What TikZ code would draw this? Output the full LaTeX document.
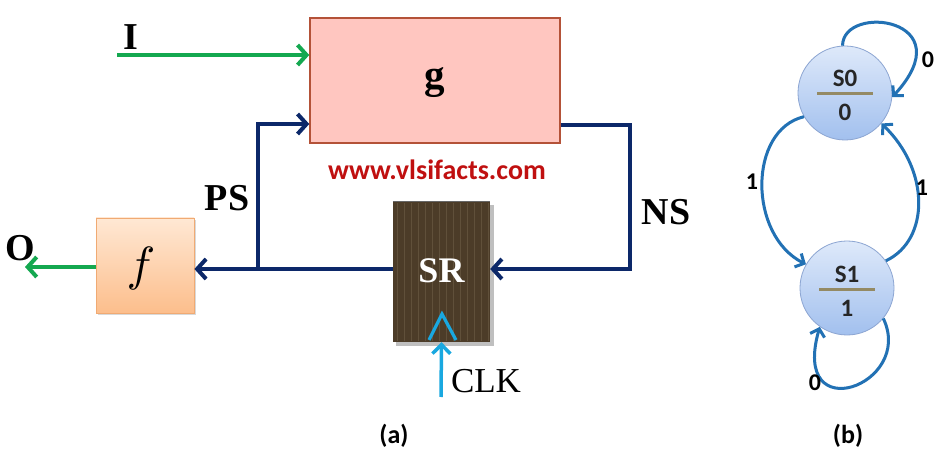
\documentclass[tikz,border=0pt]{standalone}
\usepackage{fontspec}
\setmainfont{Liberation Serif}
\setsansfont{Carlito}
\usetikzlibrary{arrows.meta,calc}
\definecolor{navyc}{RGB}{12,40,105}
\definecolor{greenc}{RGB}{20,168,80}
\definecolor{cyanc}{RGB}{25,168,224}
\definecolor{stblue}{RGB}{34,113,180}
\definecolor{wwwred}{RGB}{192,16,16}
\definecolor{gfill}{RGB}{255,198,192}
\definecolor{gborder}{RGB}{180,82,56}
\definecolor{srbase}{RGB}{76,60,40}
\definecolor{srstripe}{RGB}{96,80,58}
\definecolor{ftop}{RGB}{255,232,212}
\definecolor{fbot}{RGB}{252,190,140}
\definecolor{fborder}{RGB}{240,170,115}
\definecolor{sttop}{RGB}{222,233,250}
\definecolor{stbot}{RGB}{162,192,238}
\definecolor{stborder}{RGB}{140,165,210}
\definecolor{divc}{RGB}{148,138,100}
\begin{document}
\begin{tikzpicture}[x=1pt,y=-1pt,
  biglbl/.style={font=\fontsize{38}{40}\selectfont\bfseries},
  navyline/.style={draw=navyc,line width=4pt},
  greenline/.style={draw=greenc,line width=4pt},
  barb/.style={-{Straight Barb[length=9pt,width=20pt]}},
  sbarb/.style={-{Straight Barb[length=7pt,width=15pt]}},
  stline/.style={draw=stblue,line width=3pt,sbarb},
  state/.style={circle,minimum size=94pt,inner sep=0pt,draw=stborder,line width=0.8pt,top color=sttop,bottom color=stbot},
  sttext/.style={font=\sffamily\bfseries\fontsize{25}{27}\selectfont,text=black!85},
  divider/.style={draw=divc,line width=3pt},
  edgelbl/.style={font=\sffamily\bfseries\fontsize{24}{26}\selectfont},
  caption/.style={font=\sffamily\bfseries\fontsize{26}{28}\selectfont}
]
\useasboundingbox (0,0) rectangle (942,454);
\fill[white] (0,0) rectangle (942,454);

% g box
\node[draw=gborder,fill=gfill,line width=1.5pt,minimum width=250pt,minimum height=125pt,inner sep=0pt] (g) at (435,80.5) {};
\node[font=\fontsize{41}{43}\selectfont\bfseries] (glbl) at (435,83) {g};
\node[font=\sffamily\bfseries\fontsize{28}{30}\selectfont,text=wwwred] (www) at (437,170) {www.vlsifacts.com};

% f box with shadow
\fill[black!15] (98,220) rectangle (196,315);
\node[draw=fborder,line width=0.8pt,top color=ftop,bottom color=fbot,minimum width=98pt,minimum height=95pt,inner sep=0pt] (f) at (145,265.5) {};
\node[inner sep=0pt] (flbl) at (141,268) {\scalebox{4.8}{$f$}};

% SR box with shadow and stripes
\fill[black!25] (396,205) rectangle (494,346);
\node[fill=srbase,minimum width=97pt,minimum height=140pt,inner sep=0pt] (SR) at (441.5,272) {};
\foreach \i in {0,...,13} {
  \draw[srstripe,line width=0.9pt] (397+\i*7,203) -- (397+\i*7,341);
}
\draw[black!60,line width=1pt] (SR.north west) -- (SR.north east);
\node[font=\fontsize{36}{38}\selectfont\bfseries,text=white] (srl) at (441.5,271) {SR};
\draw[cyanc,line width=3.2pt,line join=miter] (429,340) -- (442,314) -- (456,340);

% input I
\coordinate (Iin) at (117,55);
\draw[greenline,barb] (Iin) -- (g.west |- Iin);
\node[biglbl] (Ilbl) at (131,37) {I};

% PS feedback
\coordinate (psc) at (258,269);
\coordinate (pstop) at (258,124);
\draw[navyline,barb] (SR.west |- psc) -- (f.east |- psc);
\draw[navyline,barb,line join=miter] (psc) -- (pstop) -- (g.west |- pstop);
\node[biglbl] (PSlbl) at (227,198) {PS};

% NS
\coordinate (nstop) at (630,125);
\coordinate (nsbot) at (630,269);
\draw[navyline,barb,line join=miter] (g.east |- nstop) -- (nstop) -- (nsbot) -- (SR.east |- nsbot);
\node[biglbl] (NSlbl) at (666,212) {NS};

% output O
\coordinate (Oout) at (25,267);
\draw[greenline,barb] (f.west |- Oout) -- (Oout);
\node[biglbl] (Olbl) at (20,248) {O};

% CLK
\coordinate (clk) at (441,397);
\draw[cyanc,line width=3.5pt,-{Straight Barb[length=9pt,width=18pt]}] (clk) -- (SR.south);
\node[font=\fontsize{35}{37}\selectfont] (clklbl) at (486,381) {CLK};

\node[caption] (capa) at (394,436) {(a)};

% state diagram
\node[state] (S0) at (845,93) {};
\node[state] (S1) at (847,288) {};
\node[sttext] (s0n) at ($(S0)+(0,-15)$) {S0};
\draw[divider] ($(S0)+(-28,1)$) -- ($(S0)+(28,1)$);
\node[sttext] (s0o) at ($(S0)+(0,19)$) {0};
\node[sttext] (s1n) at ($(S1)+(0,-14)$) {S1};
\draw[divider] ($(S1)+(-28,2)$) -- ($(S1)+(28,2)$);
\node[sttext] (s1o) at ($(S1)+(0,20)$) {1};

\draw[stline] (S0.93) .. controls (843,3) and (965,18) .. (S0.-5);
\draw[stline] (S0.-150) .. controls (748,130) and (748,235) .. (S1.150);
\draw[stline] (S1.35) .. controls (930,240) and (930,170) .. (S0.-40);
\draw[stline] (S1.-40) .. controls (915,385) and (790,430) .. (S1.-125);

\node[edgelbl] (l00) at (928,60) {0};
\node[edgelbl] (l01) at (752,182) {1};
\node[edgelbl] (l10) at (922,188) {1};
\node[edgelbl] (l11) at (815,383) {0};

\node[caption] (capb) at (848,436) {(b)};
\end{tikzpicture}
\end{document}
